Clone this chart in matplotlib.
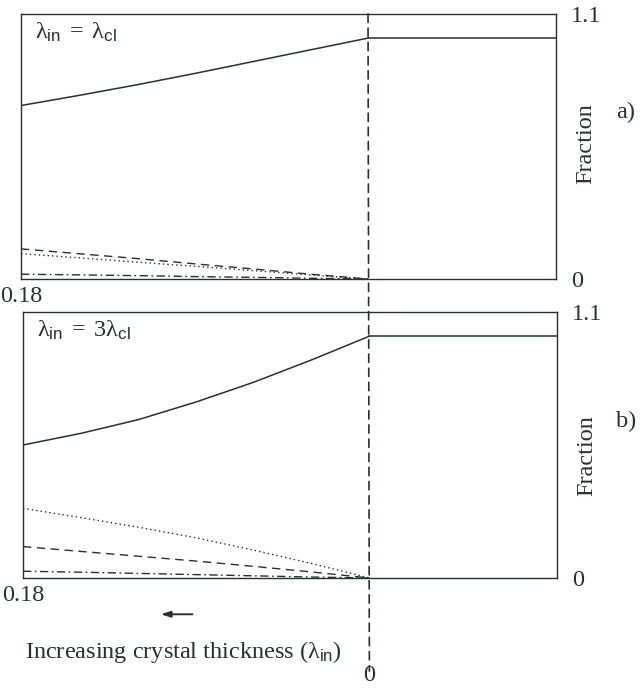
import matplotlib.pyplot as plt
from matplotlib.patches import ConnectionPatch
from matplotlib.transforms import blended_transform_factory

plt.rcParams['font.family'] = ['Liberation Serif', 'DejaVu Serif']
plt.rcParams['mathtext.fontset'] = 'custom'
plt.rcParams['mathtext.rm'] = 'Liberation Serif'
plt.rcParams['mathtext.sf'] = 'Liberation Sans'
plt.rcParams['mathtext.default'] = 'regular'

INK = '#25332c'

# crystal thickness, 0.18 at the left edge down to 0 at the dashed line
thickness = [0.18, 0.15, 0.12, 0.09, 0.06, 0.03, 0.0]
# region right of the dashed line (no thickness)
beyond = [0.0, -0.0975]

# panel a) lambda_in = lambda_cl
a_solid = [0.72, 0.762, 0.806, 0.853, 0.902, 0.951, 1.0]
a_dashed = [0.125, 0.105, 0.085, 0.063, 0.042, 0.02, 0.0]
a_dotted = [0.105, 0.088, 0.07, 0.053, 0.035, 0.017, 0.0]
a_dashdot = [0.02, 0.017, 0.014, 0.01, 0.007, 0.003, 0.0]

# panel b) lambda_in = 3 lambda_cl
b_solid = [0.55, 0.598, 0.655, 0.728, 0.81, 0.902, 1.0]
b_dashed = [0.13, 0.11, 0.09, 0.07, 0.048, 0.025, 0.0]
b_dotted = [0.288, 0.25, 0.21, 0.166, 0.115, 0.06, 0.0]
b_dashdot = [0.028, 0.024, 0.019, 0.014, 0.009, 0.004, 0.0]

plateau = [1.0, 1.0]

panels = [
    (r'$\lambda_{\mathsf{in}}\,=\,\lambda_{\mathsf{cl}}$', 'a)',
     a_solid, a_dashed, a_dotted, a_dashdot),
    (r'$\lambda_{\mathsf{in}}\,=\,3\lambda_{\mathsf{cl}}$', 'b)',
     b_solid, b_dashed, b_dotted, b_dashdot),
]

fig = plt.figure(figsize=(6.44, 6.88), dpi=100)
ax1 = fig.add_axes([21 / 644, 1 - 279 / 688, 535 / 644, 265 / 688])
ax2 = fig.add_axes([23 / 644, 1 - 578 / 688, 534 / 644, 266 / 688])

fs = 17.5
label_pos = [(0.51, 0.63), (0.46, 0.59)]

for ax, (title, tag, solid, dashed, dotted, dashdot), (fy, ty) in zip(
        [ax1, ax2], panels, label_pos):
    ax.plot(thickness, solid, color=INK, lw=1.1)
    ax.plot(beyond, plateau, color=INK, lw=1.1)
    ax.plot(thickness, dashed, color=INK, lw=1.0, ls=(0, (6, 4)))
    ax.plot(thickness, dotted, color=INK, lw=1.0, ls=(0, (1, 2.2)))
    ax.plot(thickness, dashdot, color=INK, lw=1.0, ls=(0, (6, 2.5, 1.2, 2.5)))

    ax.set_xlim(0.18, beyond[-1])
    ax.set_ylim(0, 1.1)
    ax.set_xticks([0.18], ['0.18'])
    ax.yaxis.tick_right()
    ax.set_yticks([0, 1.1], ['0', '1.1'])
    ax.tick_params(length=0, labelsize=fs, colors=INK, pad=5)
    ax.tick_params(axis='y', pad=11)
    for s in ax.spines.values():
        s.set_color(INK)
        s.set_linewidth(1.0)

    ax.text(0.027, 0.93, title, transform=ax.transAxes, fontsize=fs,
            color=INK, va='center', ha='left')
    ax.text(1.056, fy, 'Fraction', transform=ax.transAxes, fontsize=fs,
            color=INK, rotation=90, va='center', ha='center')
    ax.text(1.13, ty, tag, transform=ax.transAxes, fontsize=fs,
            color=INK, va='center', ha='center')

# dashed marker at zero thickness running through both panels
con = ConnectionPatch(xyA=(0, 1.1), coordsA=ax1.transData,
                      xyB=(0, -0.385), coordsB=ax2.transData,
                      color=INK, lw=1.2, ls=(0, (5, 3.5)))
fig.add_artist(con)

# the "0" under the dashed line sits at the very bottom of the figure
bottom = blended_transform_factory(ax2.transData, fig.transFigure)
ax2.text(0, 2 / 688, '0', transform=bottom, fontsize=fs, color=INK,
         ha='center', va='bottom', clip_on=False)

ax2.annotate('', xy=(0.1098, -0.15), xytext=(0.0905, -0.15),
             xycoords='data', annotation_clip=False,
             arrowprops=dict(arrowstyle='-|>,head_length=0.55,head_width=0.18',
                             color=INK, lw=1.4))
fig.text(25 / 644, 1 - 652 / 688,
         r'Increasing crystal thickness ($\lambda_{\mathsf{in}}$)',
         fontsize=fs, color=INK, va='center', ha='left')

fig.savefig('out.png', dpi=100, facecolor='white')
